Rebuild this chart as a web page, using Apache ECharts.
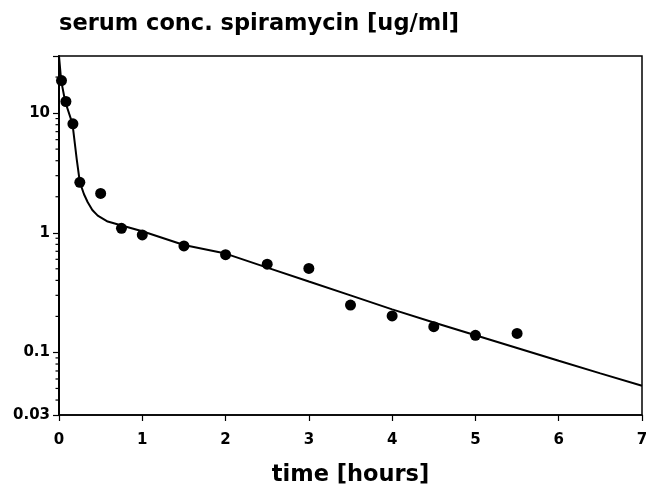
<!DOCTYPE html>
<html>
<head>
<meta charset="utf-8">
<script src="https://cdn.jsdelivr.net/npm/echarts@6/dist/echarts.min.js"></script>
<style>
  html, body { margin: 0; padding: 0; background: #fff; }
  #chart { width: 646px; height: 484px; }
</style>
</head>
<body>
<div id="chart"></div>
<script>
// measured serum levels (time in hours, conc in ug/ml)
const pointTimes = [0.03, 0.083, 0.167, 0.25, 0.5, 0.75, 1, 1.5, 2, 2.5, 3, 3.5, 4, 4.5, 5, 5.5];
const pointConc = [18.7, 12.5, 8.13, 2.64, 2.13, 1.09, 0.96, 0.776, 0.656, 0.546, 0.503, 0.249, 0.202, 0.164, 0.139, 0.144];

// fitted curve
const curveTimes = [0, 0.026, 0.074, 0.162, 0.213, 0.25, 0.3, 0.345, 0.4, 0.465, 0.585, 0.753, 1, 1.5, 2, 2.5, 3, 3.5, 4, 4.5, 5, 5.5, 6, 6.5, 7];
const curveConc = [30, 18.7, 12.5, 8.13, 4.11, 2.65, 2.1, 1.8, 1.55, 1.39, 1.24, 1.15, 1.03, 0.791, 0.67, 0.511, 0.391, 0.300, 0.229, 0.178, 0.139, 0.109, 0.0851, 0.0668, 0.0527];

const yTickLabels = ['0.03', '0.1', '1', '10'];
const yMinorTicks = [0.04, 0.05, 0.06, 0.07, 0.08, 0.09, 0.2, 0.3, 0.4, 0.5, 0.6, 0.7, 0.8, 0.9,
  2, 3, 4, 5, 6, 7, 8, 9, 20];
const xTickLabels = [0, 1, 2, 3, 4, 5, 6, 7];

const font = 'DejaVu Sans';
const chart = echarts.init(document.getElementById('chart'));

chart.setOption({
  animation: false,
  title: {
    text: 'serum conc. spiramycin [ug/ml]',
    left: 54,
    top: 8,
    textStyle: { fontFamily: font, fontSize: 22.5, fontWeight: 'bold', color: '#000' }
  },
  grid: {
    left: 59,
    right: 4,
    top: 56,
    bottom: 69,
    outerBoundsMode: 'none',
    containLabel: false,
    show: true,
    borderColor: '#000',
    borderWidth: 1.5
  },
  xAxis: {
    type: 'value',
    min: xTickLabels[0],
    max: xTickLabels[xTickLabels.length - 1],
    interval: 1,
    name: 'time [hours]',
    nameLocation: 'middle',
    nameGap: 49,
    nameTextStyle: { fontFamily: font, fontSize: 22.5, fontWeight: 'bold', color: '#000' },
    axisLine: { lineStyle: { color: '#000', width: 1.5 } },
    axisTick: { length: 6, lineStyle: { color: '#000', width: 1.2 } },
    axisLabel: { fontFamily: font, fontSize: 15, fontWeight: 'bold', color: '#000', margin: 18 },
    splitLine: { show: false }
  },
  yAxis: {
    type: 'log',
    logBase: 10,
    min: 0.03,
    max: 30,
    splitNumber: 3,
    axisLine: { show: true, lineStyle: { color: '#000', width: 2 } },
    axisTick: { show: true, length: 6, lineStyle: { color: '#000', width: 1.2 } },
    axisLabel: {
      fontFamily: font, fontSize: 15, fontWeight: 'bold', color: '#000', margin: 9,
      formatter: function (v) {
        const s = String(+v.toPrecision(3));
        return yTickLabels.indexOf(s) >= 0 ? s : '';
      }
    },
    splitLine: { show: false }
  },
  series: [
    {
      type: 'custom',
      silent: true,
      clip: false,
      z: 5,
      data: yMinorTicks.map(v => [0, v]),
      renderItem: function (params, api) {
        const p = api.coord([0, api.value(1)]);
        return {
          type: 'line',
          shape: { x1: p[0] - 3.5, y1: p[1], x2: p[0], y2: p[1] },
          style: { stroke: '#000', lineWidth: 1.2 }
        };
      }
    },
    {
      type: 'line',
      data: curveTimes.map((t, i) => [t, curveConc[i]]),
      showSymbol: false,
      smooth: false,
      lineStyle: { color: '#000', width: 2 },
      z: 3
    },
    {
      type: 'scatter',
      data: pointTimes.map((t, i) => [t, pointConc[i]]),
      symbol: 'circle',
      symbolSize: 11,
      itemStyle: { color: '#000', opacity: 1 },
      z: 4
    }
  ]
});
</script>
</body>
</html>
